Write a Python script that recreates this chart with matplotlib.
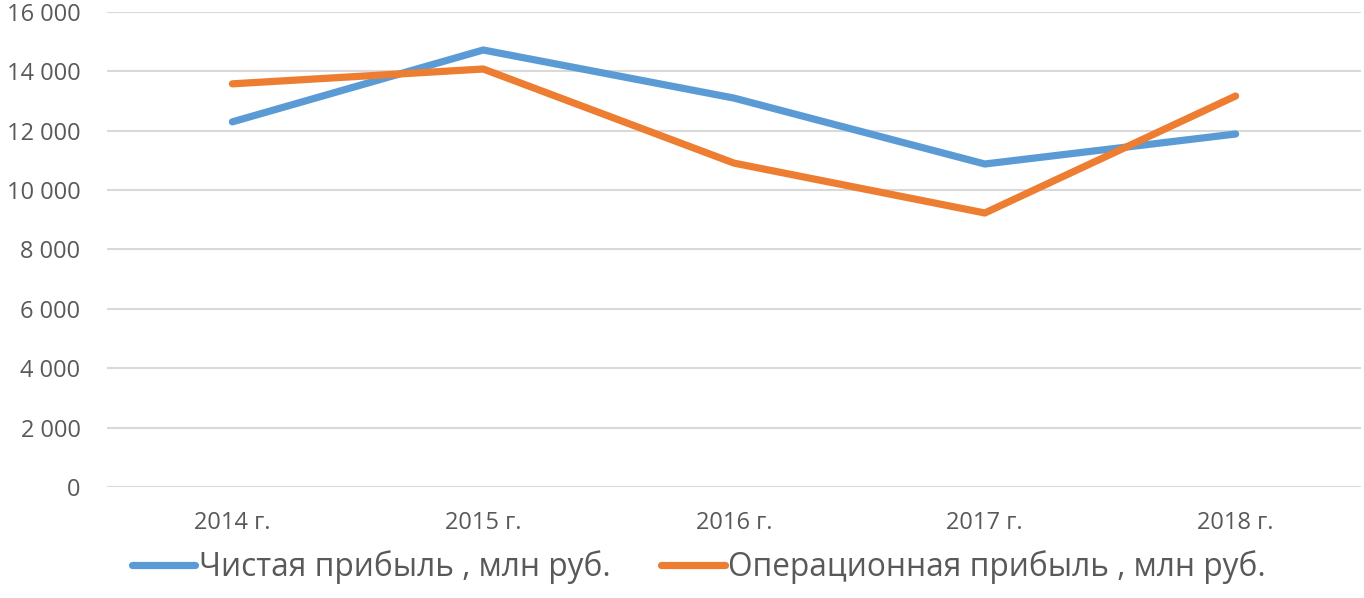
import matplotlib
matplotlib.use("Agg")
import matplotlib.pyplot as plt
from matplotlib.ticker import FuncFormatter

categories = ["2014 г.", "2015 г.", "2016 г.", "2017 г.", "2018 г."]
net_profit = [12300, 14720, 13100, 10880, 11890]
oper_profit = [13580, 14080, 10910, 9230, 13170]
series_names = ["Чистая прибыль , млн руб.", "Операционная прибыль , млн руб."]

plt.rcParams['font.family'] = ['Open Sans', 'DejaVu Sans']
text_col = '#595959'

fig = plt.figure(figsize=(13.64, 5.98), dpi=100)
ax = fig.add_axes([107/1364, 1-487/598, (1361-107)/1364, (487-12)/598])

x = list(range(len(categories)))
l1, = ax.plot(x, net_profit, color='#5B9BD5', lw=5.2, solid_capstyle='round', solid_joinstyle='round', label=series_names[0])
l2, = ax.plot(x, oper_profit, color='#ED7D31', lw=5.2, solid_capstyle='round', solid_joinstyle='round', label=series_names[1])

ax.set_xlim(-0.5, len(categories) - 0.5)
ax.set_ylim(0, 16000)
ax.set_yticks(range(0, 16001, 2000))
ax.yaxis.set_major_formatter(FuncFormatter(lambda v, p: f"{int(v):,}".replace(",", " ")))
ax.set_xticks(x)
ax.set_xticklabels(categories)
ax.grid(axis='y', color='#D9D9D9', lw=1.5)
ax.set_axisbelow(True)
for s in ax.spines.values():
    s.set_visible(False)
ax.tick_params(axis='both', length=0, labelsize=17, labelcolor=text_col)
ax.tick_params(axis='y', pad=19)
ax.tick_params(axis='x', pad=17)

leg = fig.legend(handles=[l1, l2], loc='center', bbox_to_anchor=(699/1364, 1-567/598),
                 ncol=2, frameon=False, fontsize=22.8, handlelength=2.0, handletextpad=0.12,
                 columnspacing=1.6, labelcolor=text_col)

fig.savefig("out.png", dpi=100)
